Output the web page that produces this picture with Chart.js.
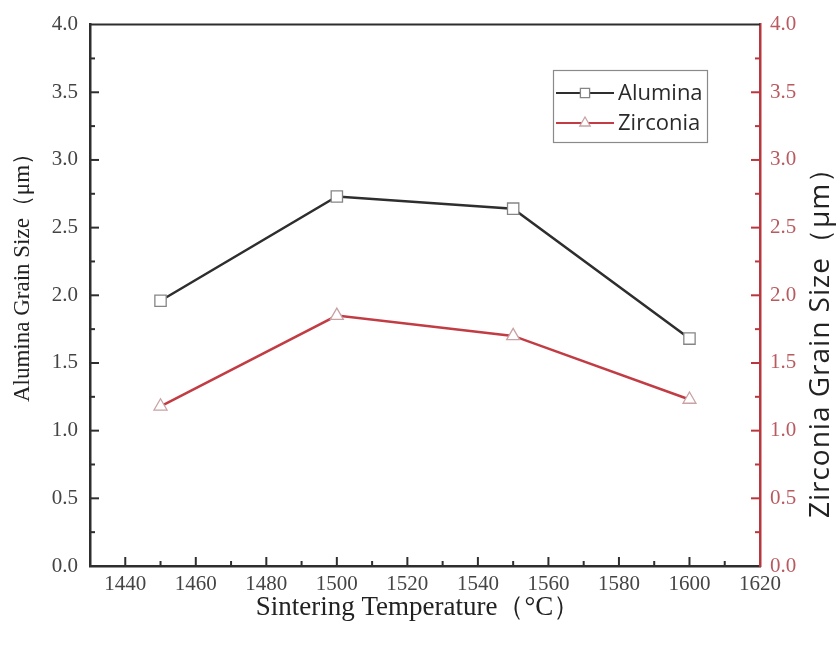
<!DOCTYPE html>
<html>
<head>
<meta charset="utf-8">
<script src="https://cdn.jsdelivr.net/npm/chart.js@4"></script>
<style>
  body { margin: 0; background: #fff; }
  #grainChart { display: block; }
</style>
</head>
<body>
<canvas id="grainChart" width="838" height="648" style="width:838px;height:648px"></canvas>
<script>
// Data
const temps = [1450, 1500, 1550, 1600];
const aluminaSize = [1.96, 2.73, 2.64, 1.68];
const zirconiaSize = [1.18, 1.85, 1.70, 1.23];
const xTicks = [1440, 1460, 1480, 1500, 1520, 1540, 1560, 1580, 1600, 1620];
const yTicks = [0, 0.5, 1.0, 1.5, 2.0, 2.5, 3.0, 3.5, 4.0];

const RED = '#b8373e';
const RED_TEXT = '#b85a5f';
const DARK = '#2e2e2e';

// inward tick marks (major + minor) and top frame line
const tickMarks = {
    id: 'tickMarks',
    afterDraw(chart) {
        const c = chart.ctx;
        const a = chart.chartArea;
        c.save();
        c.lineWidth = 2;
        // top frame
        c.strokeStyle = DARK;
        c.beginPath();
        c.moveTo(a.left - 1, a.top);
        c.lineTo(a.right, a.top);
        c.stroke();

        const xs = chart.scales.x;
        c.strokeStyle = DARK;
        for (let i = 0; i < xTicks.length; i++) {
            const px = xs.getPixelForValue(xTicks[i]);
            if (px < a.right - 2) {
                c.beginPath(); c.moveTo(px, a.bottom); c.lineTo(px, a.bottom - 9); c.stroke();
            }
            const mid = xTicks[i] - 10;
            const pm = xs.getPixelForValue(mid);
            c.beginPath(); c.moveTo(pm, a.bottom); c.lineTo(pm, a.bottom - 5); c.stroke();
        }
        ['y', 'y2'].forEach(id => {
            const s = chart.scales[id];
            const left = id === 'y';
            const x0 = left ? a.left : a.right;
            const dir = left ? 1 : -1;
            c.strokeStyle = left ? DARK : RED;
            for (let i = 0; i < yTicks.length; i++) {
                const py = s.getPixelForValue(yTicks[i]);
                if (i > 0 && i < yTicks.length - 1) {
                    c.beginPath(); c.moveTo(x0, py); c.lineTo(x0 + dir * 9, py); c.stroke();
                }
                if (i > 0) {
                    const pm = s.getPixelForValue((yTicks[i] + yTicks[i - 1]) / 2);
                    c.beginPath(); c.moveTo(x0, pm); c.lineTo(x0 + dir * 5, pm); c.stroke();
                }
            }
        });
        c.restore();
    }
};

// axis titles
const axisTitles = {
    id: 'axisTitles',
    afterDraw(chart) {
        const c = chart.ctx;
        c.save();
        c.textAlign = 'center';
        c.textBaseline = 'middle';
        c.fillStyle = '#222';
        c.font = '27px "Liberation Serif", serif';
        c.fillText('Sintering Temperature（°C）', 418, 608);

        c.save();
        c.translate(23, 272);
        c.rotate(-Math.PI / 2);
        c.font = '23px "Liberation Serif", serif';
        c.fillText('Alumina Grain Size（μm）', 0, 0);
        c.restore();

        c.save();
        c.translate(821, 336);
        c.rotate(-Math.PI / 2);
        c.font = '28px "Open Sans", sans-serif';
        c.letterSpacing = '1px';
        c.fillText('Zirconia Grain Size（μm）', 0, 0);
        c.restore();
        c.restore();
    }
};

// boxed legend with line + marker
const boxLegend = {
    id: 'boxLegend',
    afterDraw(chart) {
        const c = chart.ctx;
        c.save();
        c.strokeStyle = '#8a8a8a';
        c.lineWidth = 1.2;
        c.strokeRect(553.5, 70.5, 154, 72);
        c.font = '22px "Open Sans", sans-serif';
        c.textBaseline = 'middle';
        chart.data.datasets.forEach((ds, i) => {
            const y = 93 + i * 30;
            c.strokeStyle = ds.borderColor;
            c.lineWidth = 2;
            c.beginPath(); c.moveTo(556, y); c.lineTo(614, y); c.stroke();
            c.fillStyle = '#fff';
            c.strokeStyle = ds.pointBorderColor;
            c.lineWidth = 1.3;
            Chart.helpers.drawPoint(c, { pointStyle: ds.pointStyle, radius: i === 0 ? 6.5 : 6, rotation: 0, borderWidth: 1.3 }, 585, y);
            c.fillStyle = '#2a2a2a';
            c.fillText(ds.label, 618, y + 1);
        });
        c.restore();
    }
};

const ctx = document.getElementById('grainChart').getContext('2d');
new Chart(ctx, {
    type: 'line',
    data: {
        datasets: [{
            label: 'Alumina',
            data: temps.map((t, i) => ({ x: t, y: aluminaSize[i] })),
            yAxisID: 'y',
            borderColor: DARK,
            borderWidth: 2.5,
            pointStyle: 'rect',
            pointRadius: 8,
            pointBorderColor: '#858585',
            pointBackgroundColor: '#fff',
            pointBorderWidth: 1.3,
            tension: 0
        }, {
            label: 'Zirconia',
            data: temps.map((t, i) => ({ x: t, y: zirconiaSize[i] })),
            yAxisID: 'y2',
            borderColor: '#c23c44',
            borderWidth: 2.5,
            pointStyle: 'triangle',
            pointRadius: 7.5,
            pointBorderColor: '#c9a2a4',
            pointBackgroundColor: '#fff',
            pointBorderWidth: 1.3,
            tension: 0
        }]
    },
    options: {
        responsive: false,
        animation: false,
        layout: { padding: { top: 22, left: 0, right: 0, bottom: 0 } },
        plugins: { legend: { display: false }, tooltip: { enabled: false } },
        scales: {
            x: {
                type: 'linear',
                min: 1430,
                max: 1620,
                afterBuildTicks: s => { s.ticks = xTicks.map(v => ({ value: v })); },
                afterFit: s => { s.height = 82; },
                grid: { display: false, drawTicks: false },
                border: { display: true, color: DARK, width: 2.5 },
                ticks: {
                    padding: 6,
                    color: '#444',
                    font: { family: '"Liberation Serif", serif', size: 21 },
                    callback: v => String(v),
                    maxRotation: 0
                }
            },
            y: {
                position: 'left',
                min: 0,
                max: 4,
                afterBuildTicks: s => { s.ticks = yTicks.map(v => ({ value: v })); },
                afterFit: s => { s.width = 90; },
                grid: { display: false, drawTicks: false },
                border: { display: true, color: DARK, width: 2.5 },
                ticks: {
                    padding: 12,
                    color: '#444',
                    font: { family: '"Liberation Serif", serif', size: 21 },
                    callback: v => v.toFixed(1)
                }
            },
            y2: {
                position: 'right',
                min: 0,
                max: 4,
                afterBuildTicks: s => { s.ticks = yTicks.map(v => ({ value: v })); },
                afterFit: s => { s.width = 78; },
                grid: { display: false, drawTicks: false },
                border: { display: true, color: RED, width: 2.5 },
                ticks: {
                    padding: 10,
                    color: RED_TEXT,
                    font: { family: '"Liberation Serif", serif', size: 21 },
                    callback: v => v.toFixed(1)
                }
            }
        }
    },
    plugins: [tickMarks, axisTitles, boxLegend]
});
</script>
</body>
</html>
